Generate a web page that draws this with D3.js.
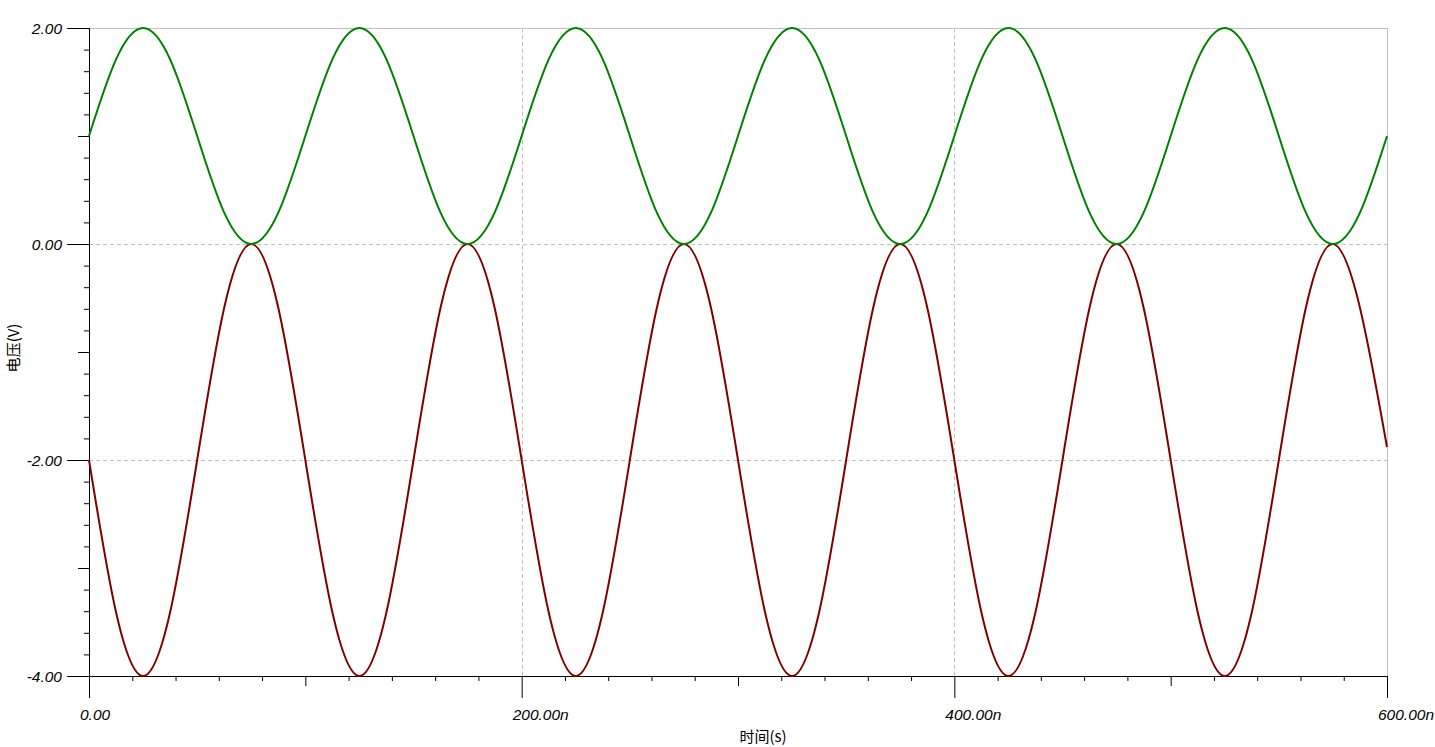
<!DOCTYPE html>
<html>
<head>
<meta charset="utf-8">
<script src="https://cdn.jsdelivr.net/npm/d3@7"></script>
<style>
  html, body { margin: 0; padding: 0; background: #fff; }
  svg { display: block; }
  .tick-label { font-family: "Liberation Sans", Arial, sans-serif; font-style: italic; font-size: 15.5px; fill: #000; }
  .axis-title { font-family: "Noto Sans CJK SC", sans-serif; font-size: 15px; fill: #000; }
</style>
</head>
<body>
<div id="chart"></div>
<script>
// time in ns
var times = [
    0, 12.5, 25, 37.5, 50, 62.5, 75, 87.5,
    100, 112.5, 125, 137.5, 150, 162.5, 175, 187.5,
    200, 212.5, 225, 237.5, 250, 262.5, 275, 287.5,
    300, 312.5, 325, 337.5, 350, 362.5, 375, 387.5,
    400, 412.5, 425, 437.5, 450, 462.5, 475, 487.5,
    500, 512.5, 525, 537.5, 550, 562.5, 575, 587.5,
    600
];
var greenVolts = [
    1.00, 1.71, 2.00, 1.71, 1.00, 0.29, 0.00, 0.29,
    1.00, 1.71, 2.00, 1.71, 1.00, 0.29, 0.00, 0.29,
    1.00, 1.71, 2.00, 1.71, 1.00, 0.29, 0.00, 0.29,
    1.00, 1.71, 2.00, 1.71, 1.00, 0.29, 0.00, 0.29,
    1.00, 1.71, 2.00, 1.71, 1.00, 0.29, 0.00, 0.29,
    1.00, 1.71, 2.00, 1.71, 1.00, 0.29, 0.00, 0.29,
    1.00
];
var redVolts = [
    -2.00, -3.41, -4.00, -3.41, -2.00, -0.59, 0.00, -0.59,
    -2.00, -3.41, -4.00, -3.41, -2.00, -0.59, 0.00, -0.59,
    -2.00, -3.41, -4.00, -3.41, -2.00, -0.59, 0.00, -0.59,
    -2.00, -3.41, -4.00, -3.41, -2.00, -0.59, 0.00, -0.59,
    -2.00, -3.41, -4.00, -3.41, -2.00, -0.59, 0.00, -0.59,
    -2.00, -3.41, -4.00, -3.41, -2.00, -0.59, 0.00, -0.59,
    -1.88
];
var xMajorTicks = [0, 200, 400, 600];
var xTickLabels = ['0.00', '200.00n', '400.00n', '600.00n'];
var yMajorTicks = [-4, -2, 0, 2];
var yTickLabels = ['-4.00', '-2.00', '0.00', '2.00'];

var width = 1435, height = 747;
var margin = {top: 28, left: 89, right: 48, bottom: 71};
var w = width - margin.left - margin.right,
    h = height - margin.top - margin.bottom;

var x = d3.scaleLinear().domain([0, 600]).range([0, w]);
var y = d3.scaleLinear().domain([-4, 2]).range([h, 0]);

var svg = d3.select('#chart').append('svg')
    .attr('width', width)
    .attr('height', height);
var g = svg.append('g')
    .attr('transform', 'translate(' + margin.left + ',' + margin.top + ')');

// grid
var grid = g.append('g').attr('shape-rendering', 'crispEdges');
grid.selectAll('.hgrid')
    .data([-2, 0])
    .enter().append('line')
    .attr('x1', 0).attr('x2', w)
    .attr('y1', function(d) { return Math.round(y(d)) + 0.5; })
    .attr('y2', function(d) { return Math.round(y(d)) + 0.5; })
    .attr('stroke', '#c0c0c0')
    .attr('stroke-dasharray', '4,3');
grid.selectAll('.vgrid')
    .data([200, 400])
    .enter().append('line')
    .attr('y1', 0).attr('y2', h)
    .attr('x1', function(d) { return Math.round(x(d)) + 0.5; })
    .attr('x2', function(d) { return Math.round(x(d)) + 0.5; })
    .attr('stroke', '#c0c0c0')
    .attr('stroke-dasharray', '4,3');
grid.append('line')
    .attr('x1', 0).attr('x2', w).attr('y1', 0.5).attr('y2', 0.5)
    .attr('stroke', '#c0c0c0');
grid.append('line')
    .attr('x1', Math.round(w) + 0.5).attr('x2', Math.round(w) + 0.5)
    .attr('y1', 0).attr('y2', h)
    .attr('stroke', '#c0c0c0');

// minor / mid ticks
var yMid = [-3, -1, 1];
var yMinor = d3.range(-4, 2.001, 0.2).filter(function(v) {
    return Math.abs(v - Math.round(v)) > 0.01;
});
var xMid = [100, 300, 500];
var xMinor = d3.range(0, 600.1, 20).filter(function(v) { return v % 100 !== 0; });

function plainAxis(axis) {
    return axis.tickFormat('').tickSizeOuter(0);
}

g.append('g').call(plainAxis(d3.axisLeft(y).tickValues(yMinor).tickSize(5)));
g.append('g').call(plainAxis(d3.axisLeft(y).tickValues(yMid).tickSize(11)));
g.append('g').call(plainAxis(d3.axisLeft(y).tickValues(yMajorTicks).tickSize(22)));

var xg = 'translate(0,' + h + ')';
g.append('g').attr('transform', xg).call(plainAxis(d3.axisBottom(x).tickValues(xMinor).tickSize(5)));
g.append('g').attr('transform', xg).call(plainAxis(d3.axisBottom(x).tickValues(xMid).tickSize(10)));
g.append('g').attr('transform', xg).call(plainAxis(d3.axisBottom(x).tickValues(xMajorTicks).tickSize(22)));

g.selectAll('.domain, .tick line').attr('stroke', '#000');

// tick labels
g.selectAll('.ylab')
    .data(yMajorTicks)
    .enter().append('text')
    .attr('class', 'tick-label')
    .attr('x', -27)
    .attr('y', function(d) { return y(d); })
    .attr('dy', '0.36em')
    .attr('text-anchor', 'end')
    .text(function(d, i) { return yTickLabels[i]; });

g.selectAll('.xlab')
    .data(xMajorTicks)
    .enter().append('text')
    .attr('class', 'tick-label')
    .attr('x', function(d) { return x(d) - 9; })
    .attr('y', h + 44)
    .text(function(d, i) { return xTickLabels[i]; });

// axis titles
svg.append('text')
    .attr('class', 'axis-title')
    .attr('x', 763)
    .attr('y', 742)
    .attr('text-anchor', 'middle')
    .text('时间(s)');
svg.append('text')
    .attr('class', 'axis-title')
    .attr('transform', 'translate(19,348) rotate(-90)')
    .attr('text-anchor', 'middle')
    .text('电压(V)');

// traces
var lineOf = function(vals) {
    return d3.line()
        .x(function(d, i) { return x(times[i]); })
        .y(function(d) { return y(d); })
        .curve(d3.curveNatural)(vals);
};

g.append('path')
    .attr('d', lineOf(redVolts))
    .attr('fill', 'none')
    .attr('stroke', '#800000')
    .attr('stroke-width', 2);
g.append('path')
    .attr('d', lineOf(greenVolts))
    .attr('fill', 'none')
    .attr('stroke', '#008000')
    .attr('stroke-width', 2);
</script>
</body>
</html>
